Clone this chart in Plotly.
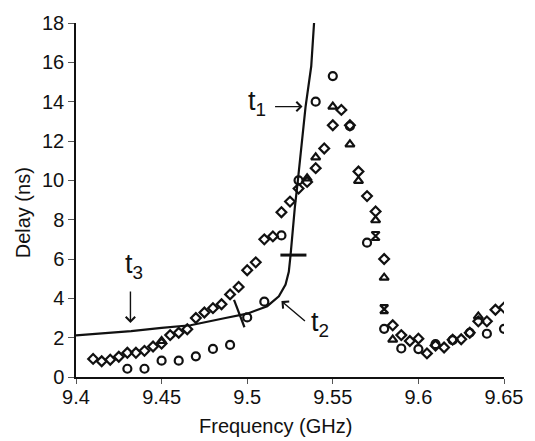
import plotly.graph_objects as go

# ---- data ----
circle_x = [9.43, 9.44, 9.45, 9.46, 9.47, 9.48, 9.49, 9.50, 9.51, 9.52, 9.53, 9.54,
            9.55, 9.56, 9.57, 9.58, 9.59, 9.60, 9.61, 9.62, 9.63, 9.64, 9.65]
circle_y = [0.42, 0.42, 0.83, 0.83, 1.05, 1.43, 1.63, 3.03, 3.83, 7.2, 10.0, 14.0,
            15.3, 12.75, 6.83, 2.45, 1.45, 1.42, 1.67, 1.87, 2.25, 2.2, 2.45]

diamond_x = [9.410, 9.415, 9.420, 9.425, 9.430, 9.435, 9.440, 9.445, 9.450, 9.455,
             9.460, 9.465, 9.470, 9.475, 9.480, 9.485, 9.490, 9.495, 9.500, 9.505,
             9.510, 9.515, 9.520, 9.525, 9.530, 9.535, 9.540, 9.545, 9.550, 9.555,
             9.560, 9.565, 9.570, 9.575, 9.580, 9.585, 9.590, 9.595, 9.600, 9.605,
             9.610, 9.615, 9.620, 9.625, 9.630, 9.635, 9.640, 9.645, 9.650]
diamond_y = [0.92, 0.80, 0.88, 1.03, 1.23, 1.23, 1.33, 1.55, 1.70, 2.13,
             2.25, 2.43, 3.00, 3.28, 3.50, 3.70, 4.20, 4.58, 5.43, 5.83,
             7.00, 7.15, 8.38, 8.92, 9.58, 9.92, 10.62, 11.62, 12.80, 13.58,
             12.80, 10.45, 9.20, 8.42, 6.00, 2.63, 2.13, 1.83, 1.95, 1.20,
             1.60, 1.50, 1.90, 1.92, 2.25, 2.83, 2.83, 3.42, 3.53]

triangle_x = [9.450, 9.535, 9.540, 9.550, 9.560, 9.565, 9.575, 9.580, 9.585, 9.635]
triangle_y = [1.83, 10.1, 11.17, 13.75, 11.83, 9.97, 7.97, 5.05, 1.90, 3.08]

star_x = [9.575, 9.580]
star_y = [7.17, 3.45]

curve_x = [9.400, 9.4322, 9.450, 9.4669, 9.4873, 9.500, 9.5117, 9.5185, 9.5224,
           9.5243, 9.5253, 9.5263, 9.5278, 9.5296, 9.5341, 9.5374, 9.5392]
curve_y = [2.12, 2.33, 2.50, 2.63, 3.00, 3.22, 3.60, 4.10, 4.70,
           5.35, 6.17, 7.33, 8.60, 10.0, 13.75, 15.8, 18.2]

x_ticks = [9.40, 9.45, 9.50, 9.55, 9.60, 9.65]
x_tick_text = ["9.4", "9.45", "9.5", "9.55", "9.6", "9.65"]
y_ticks = [0, 2, 4, 6, 8, 10, 12, 14, 16, 18]

# annotation marks on the curve
mark1_x = [9.4923, 9.4984]
mark1_y = [3.92, 2.53]
mark2_x = [9.5194, 9.5346]
mark2_y = [6.2, 6.2]

FONT = "Liberation Sans, Arial, Helvetica, sans-serif"
INK = "#111111"

fig = go.Figure()

fig.add_trace(go.Scatter(x=curve_x, y=curve_y, mode="lines",
                         line=dict(color=INK, width=2.2), showlegend=False))
fig.add_trace(go.Scatter(x=mark1_x, y=mark1_y, mode="lines",
                         line=dict(color=INK, width=2.2), showlegend=False))
fig.add_trace(go.Scatter(x=mark2_x, y=mark2_y, mode="lines",
                         line=dict(color=INK, width=3), showlegend=False))

mk_line = dict(color=INK, width=2.2)
fig.add_trace(go.Scatter(x=diamond_x, y=diamond_y, mode="markers", showlegend=False,
                         marker=dict(symbol="diamond-open", size=7.5, line=mk_line, color=INK)))
fig.add_trace(go.Scatter(x=circle_x, y=circle_y, mode="markers", showlegend=False,
                         marker=dict(symbol="circle-open", size=8, line=mk_line, color=INK)))
fig.add_trace(go.Scatter(x=triangle_x, y=triangle_y, mode="markers", showlegend=False,
                         marker=dict(symbol="triangle-up-open", size=8, line=mk_line, color=INK)))
fig.add_trace(go.Scatter(x=star_x, y=star_y, mode="markers", showlegend=False,
                         marker=dict(symbol="hourglass-open", size=8, line=mk_line, color=INK)))

# arrows
arrows = [
    dict(x=9.5323, y=13.75, ax=9.5154, ay=13.75),   # t1
    dict(x=9.4318, y=2.75, ax=9.4318, ay=4.42),     # t3
    dict(x=9.5200, y=3.86, ax=9.5346, ay=2.78),     # t2
]
for a in arrows:
    fig.add_annotation(x=a["x"], y=a["y"], ax=a["ax"], ay=a["ay"], xref="x", yref="y",
                       axref="x", ayref="y", text="", showarrow=True,
                       arrowhead=4, arrowsize=1.3, arrowwidth=1.4, arrowcolor=INK)

labels = [
    dict(x=9.5060, y=13.95, t="t<sub>1</sub>"),
    dict(x=9.4336, y=5.65, t="t<sub>3</sub>"),
    dict(x=9.5428, y=2.70, t="t<sub>2</sub>"),
]
for l in labels:
    fig.add_annotation(x=l["x"], y=l["y"], xref="x", yref="y", text=l["t"], showarrow=False,
                       xanchor="center", yanchor="middle",
                       font=dict(family=FONT, size=27, color=INK))

# axis titles
fig.add_annotation(x=0.466, y=-0.139, xref="paper", yref="paper", text="Frequency (GHz)",
                   showarrow=False, xanchor="center", yanchor="middle",
                   font=dict(family=FONT, size=20, color=INK))
fig.add_annotation(x=-0.124, y=0.465, xref="paper", yref="paper", text="Delay (ns)",
                   showarrow=False, xanchor="center", yanchor="middle", textangle=-90,
                   font=dict(family=FONT, size=20, color=INK))

fig.update_layout(
    width=535, height=441,
    margin=dict(l=76, r=31, t=17, b=64),
    paper_bgcolor="white", plot_bgcolor="white",
    font=dict(family=FONT, size=20, color=INK),
    xaxis=dict(range=[9.4, 9.65], tickvals=x_ticks, ticktext=x_tick_text,
               showgrid=False, zeroline=False, showline=True, linecolor=INK, linewidth=1.5,
               ticks="outside", ticklen=5, tickwidth=1, tickcolor="#555555",
               ticklabelstandoff=-4,
               tickfont=dict(family=FONT, size=20, color=INK)),
    yaxis=dict(range=[0, 18], tickvals=y_ticks,
               showgrid=False, zeroline=False, showline=True, linecolor=INK, linewidth=1.5,
               ticks="outside", ticklen=6, tickwidth=1, tickcolor="#555555",
               tickfont=dict(family=FONT, size=20, color=INK)),
)

fig.write_html("out.html", config={"displayModeBar": False},
               post_script="document.body.style.margin='0';")
